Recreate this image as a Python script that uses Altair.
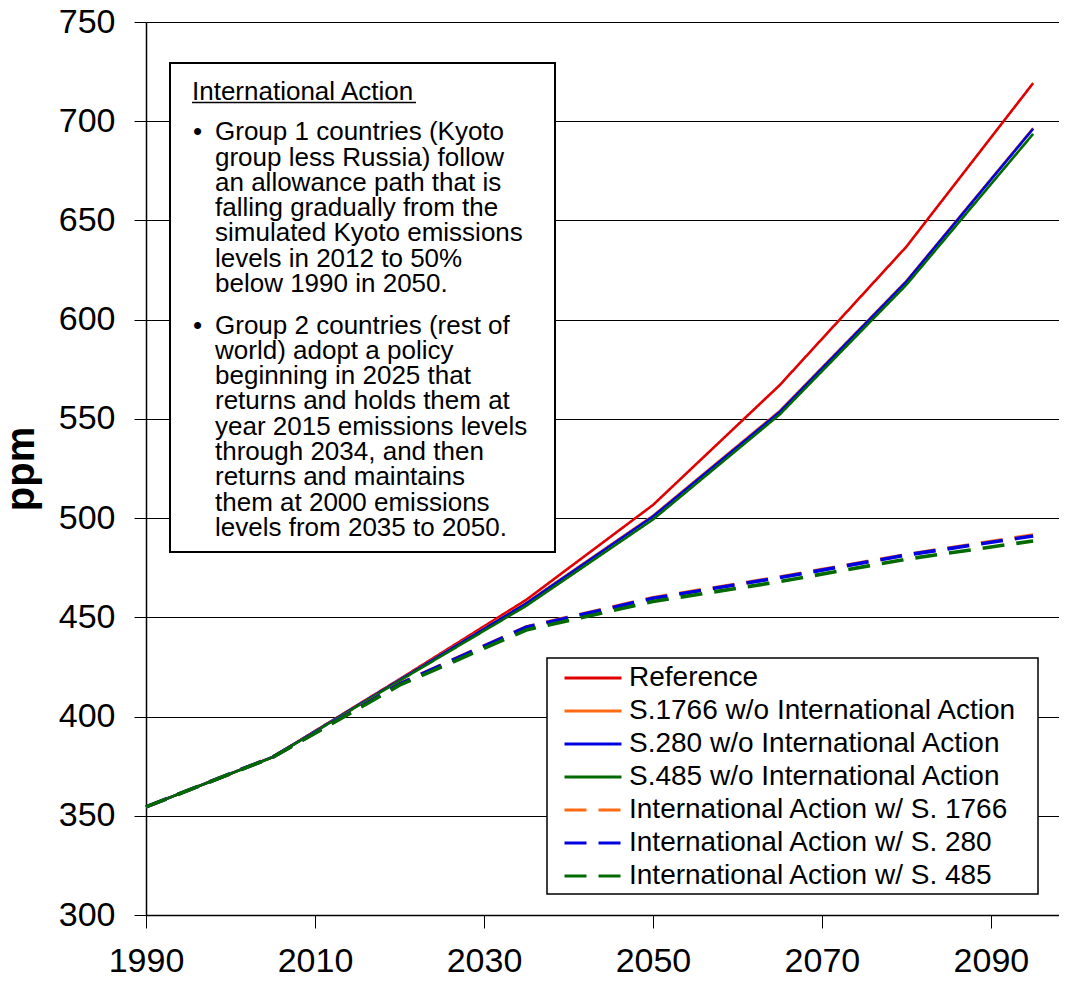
import altair as alt
import pandas as pd

# ---------------- data ----------------
years = [1990, 2005, 2020, 2035, 2050, 2065, 2080, 2095]

series = [
    "Reference",
    "S.1766 w/o International Action",
    "S.280 w/o International Action",
    "S.485 w/o International Action",
    "International Action w/ S. 1766",
    "International Action w/ S. 280",
    "International Action w/ S. 485",
]

reference = [354.5, 379.6, 418.8, 458.8, 506.6, 567.0, 636.8, 719.2]
s1766 = [354.5, 379.6, 418.5, 457.3, 501.2, 554.0, 619.5, 696.5]
s280 = [354.5, 379.6, 418.4, 457.0, 500.8, 553.5, 619.2, 696.2]
s485 = [354.5, 379.5, 418.0, 455.8, 499.3, 552.2, 617.6, 693.6]
ia1766 = [354.5, 379.6, 416.5, 445.2, 459.9, 470.3, 481.6, 491.5]
ia280 = [354.5, 379.6, 416.4, 445.0, 459.6, 470.0, 481.4, 491.0]
ia485 = [354.5, 379.5, 415.8, 443.6, 458.0, 468.0, 479.3, 488.5]

values = [reference, s1766, s280, s485, ia1766, ia280, ia485]

colors = ["#E00000", "#FF6A13", "#0000E0", "#006A00", "#FF6A13", "#0000E0", "#006A00"]
dashes = [[1, 0], [1, 0], [1, 0], [1, 0], [22, 12], [22, 12], [22, 12]]

x_ticks = [1990, 2010, 2030, 2050, 2070, 2090]
y_ticks = [300, 350, 400, 450, 500, 550, 600, 650, 700, 750]

box_title = "International Action"
bullet1 = [
    "Group 1 countries (Kyoto",
    "group less Russia) follow",
    "an allowance path that is",
    "falling gradually from the",
    "simulated Kyoto emissions",
    "levels in 2012 to 50%",
    "below 1990 in 2050.",
]
bullet2 = [
    "Group 2 countries (rest of",
    "world) adopt a policy",
    "beginning in 2025 that",
    "returns and holds them at",
    "year 2015 emissions levels",
    "through 2034, and then",
    "returns and maintains",
    "them at 2000 emissions",
    "levels from 2035 to 2050.",
]

FONT = "Liberation Sans"

rows = []
for name, vals in zip(series, values):
    for yr, v in zip(years, vals):
        rows.append({"year": yr, "ppm": v, "series": name})
df = pd.DataFrame(rows)
solid_df = df[df["series"].isin(series[:4])]
dash_df = df[df["series"].isin(series[4:])]

legend = alt.Legend(
    title=None,
    orient="none",
    legendX=414,
    legendY=639.5,
    direction="vertical",
    symbolType="M-1,0H5",
    symbolSize=361,
    symbolStrokeWidth=3,
    symbolOffset=0,
    labelOffset=41,
    labelFontSize=28,
    labelFont=FONT,
    labelColor="black",
    labelLimit=600,
    clipHeight=33,
    rowPadding=0,
    padding=0,
)

x_enc = alt.X(
    "year:Q",
    scale=alt.Scale(domain=[1990, 2098.06], nice=False, zero=False),
    axis=alt.Axis(
        values=x_ticks, format="d", title=None, grid=False,
        labelFontSize=34, labelFont=FONT, labelColor="black", labelPadding=16,
        labelFlush=False, tickSize=13, tickColor="black", tickWidth=1,
        domainColor="black", domainWidth=1.5,
    ),
)
y_enc = alt.Y(
    "ppm:Q",
    scale=alt.Scale(domain=[300, 750], nice=False, zero=False),
    axis=alt.Axis(
        values=y_ticks, title="ppm", grid=True, gridColor="black", gridWidth=1,
        labelFontSize=34, labelFont=FONT, labelColor="black", labelPadding=19,
        tickSize=12, tickColor="black", tickWidth=1,
        domainColor="black", domainWidth=1.5,
        titleFont=FONT, titleFontSize=40, titleFontWeight="bold", titleColor="black",
        titleAngle=270, titleX=-113, titleY=446.5, titleAlign="center",
        titleBaseline="alphabetic",
    ),
)
color_enc = alt.Color("series:N", scale=alt.Scale(domain=series, range=colors), legend=legend)
dash_enc = alt.StrokeDash("series:N", scale=alt.Scale(domain=series, range=dashes), legend=legend)

solid = alt.Chart(solid_df).mark_line(strokeWidth=2.6, strokeCap="butt").encode(
    x=x_enc, y=y_enc, color=color_enc, strokeDash=dash_enc
)
dashed = alt.Chart(dash_df).mark_line(strokeWidth=3.6, strokeCap="butt").encode(
    x=x_enc, y=y_enc, color=color_enc, strokeDash=dash_enc
)

one = pd.DataFrame({"k": [0]})

text_box = alt.Chart(one).mark_rect(fill="white", stroke="black", strokeWidth=2).encode(
    x=alt.value(24), x2=alt.value(409), y=alt.value(41), y2=alt.value(530)
)
legend_box = alt.Chart(one).mark_rect(fill="white", stroke="black", strokeWidth=1.5).encode(
    x=alt.value(401), x2=alt.value(892), y=alt.value(636), y2=alt.value(872)
)

title_txt = alt.Chart(one).mark_text(
    align="left", baseline="alphabetic", fontSize=26, font=FONT, color="black"
).encode(x=alt.value(46), y=alt.value(78.3), text=alt.value(box_title))
underline = alt.Chart(one).mark_rule(color="black", strokeWidth=1.5).encode(
    x=alt.value(46), x2=alt.value(270), y=alt.value(80.5)
)


def bullet_layers(lines, ybase):
    body = alt.Chart(one).mark_text(
        align="left", baseline="alphabetic", fontSize=26, font=FONT, color="black",
        lineBreak="\n", lineHeight=25.3
    ).encode(x=alt.value(69), y=alt.value(ybase), text=alt.value("\n".join(lines)))
    dot = alt.Chart(one).mark_text(
        align="left", baseline="alphabetic", fontSize=26, font=FONT, color="black"
    ).encode(x=alt.value(47), y=alt.value(ybase), text=alt.value("•"))
    return [body, dot]


chart = alt.layer(
    text_box, legend_box, solid, dashed, title_txt, underline,
    *bullet_layers(bullet1, 118.3), *bullet_layers(bullet2, 311.6)
).properties(
    width=913,
    height=893,
    autosize=alt.AutoSizeParams(type="none"),
    padding={"left": 138, "top": 14, "right": 0, "bottom": 64},
).configure_view(stroke=None).configure(font=FONT)

chart.save("out.html", embed_options={"renderer": "svg", "actions": False})
